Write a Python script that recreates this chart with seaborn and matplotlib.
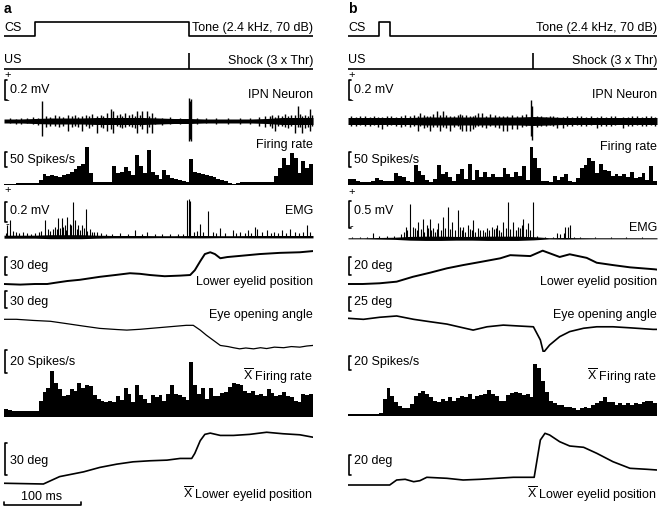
import numpy as np
import pandas as pd
import matplotlib
matplotlib.use('Agg')
import matplotlib.pyplot as plt
import seaborn as sns

sns.set_theme(style='white')
plt.rcParams['font.family'] = ['Liberation Sans', 'DejaVu Sans']
plt.rcParams['mathtext.fontset'] = 'custom'
plt.rcParams['mathtext.rm'] = 'Liberation Sans'

INK = '#000000'

# ---------------- data (time in ms, 0-400 per panel) ----------------
cs_a = (40, 240)
cs_b = (40, 55)
us_time = 240

# single-trial firing rate, 5 ms bins (spikes/s)
rate_a = [3, 4, 4, 5, 5, 6, 6, 7, 8, 15,
          35, 30, 33, 30, 28, 33, 38, 44, 52, 62,
          70, 125, 40, 11, 9, 9, 9, 9, 62, 40,
          42, 60, 48, 33, 100, 62, 40, 115, 42, 33,
          20, 50, 33, 22, 19, 16, 13, 10, 88, 44,
          41, 37, 33, 29, 25, 21, 17, 13, 8, 3,
          8, 9, 9, 9, 9, 9, 9, 9, 9, 9,
          30, 55, 90, 65, 105, 90, 40, 80, 55, 70]
rate_b = [19, 19, 13, 11, 11, 11, 13, 24, 15, 14,
          14, 14, 40, 30, 26, 12, 11, 68, 48, 32,
          17, 11, 20, 68, 38, 44, 27, 12, 38, 52,
          20, 70, 15, 50, 28, 44, 26, 38, 28, 28,
          58, 38, 26, 42, 30, 62, 18, 125, 89, 55,
          14, 12, 11, 30, 18, 28, 38, 12, 11, 22,
          55, 65, 90, 80, 39, 70, 50, 45, 30, 38,
          30, 36, 28, 42, 22, 28, 40, 17, 63, 12]

# mean firing rate, 5 ms bins (spikes/s)
mrate_a = [7, 5.5, 5.3, 5.2, 5, 5, 5, 5, 5.2, 14,
           22, 25, 40, 30, 24, 18, 19, 24, 23, 30,
           25, 28, 27, 19, 16, 14, 13, 14, 13, 18,
           15, 25, 20, 13, 28, 19, 16, 12, 19, 17,
           19, 14, 20, 28, 20, 19, 17, 15, 48, 28,
           20, 25, 16, 25, 18, 18, 21, 22, 26, 30,
           29, 28, 23, 21, 23, 19, 20, 18, 24, 21,
           18, 19, 22, 18, 17, 14, 13, 20, 19, 20]
mrate_b = [3, 3, 3, 3, 3, 3, 3, 3, 4, 25,
           40, 29, 20, 15, 11, 11, 17, 29, 33, 36,
           31, 27, 22, 20, 25, 22, 27, 22, 26, 29,
           27, 31, 25, 28, 30, 32, 37, 32, 29, 22,
           22, 30, 33, 34, 33, 30, 32, 27, 75, 68,
           50, 35, 22, 18, 16, 16, 13, 13, 11, 9,
           11, 13, 11, 16, 18, 22, 27, 20, 20, 16,
           18, 16, 18, 16, 18, 17, 20, 22, 22, 18]

# IPN neuron: noise envelope (mV) every 20 ms, spikes (time, up, down)
env_t = [0, 20, 40, 60, 80, 100, 120, 140, 160, 180, 200,
         220, 240, 260, 280, 300, 320, 340, 360, 380, 400]
neu_env_a = [0.02, 0.02, 0.025, 0.03, 0.03, 0.03, 0.035, 0.035, 0.035, 0.035, 0.03,
             0.025, 0.025, 0.02, 0.02, 0.02, 0.02, 0.025, 0.035, 0.035, 0.035]
neu_env_b = [0.035, 0.035, 0.035, 0.035, 0.035, 0.04, 0.04, 0.04, 0.04, 0.04, 0.04,
             0.04, 0.045, 0.04, 0.035, 0.035, 0.035, 0.035, 0.035, 0.035, 0.035]
spk_t_a = [49, 83, 101, 120, 133, 138, 141, 157, 172, 179, 185, 192,
           239, 240.5, 242, 351, 360, 377, 380, 386, 396,
           8, 15, 22, 30, 37, 44, 55, 60, 66, 71, 76, 88, 92, 96, 106, 110, 114, 125,
           128, 146, 150, 153, 162, 166, 169, 176, 188, 196, 205, 215, 228, 250, 262,
           275, 290, 305, 318, 330, 338, 344, 347, 355, 364, 368, 372, 383, 390, 393, 399]
spk_up_a = [0.2, 0.06, 0.05, 0.05, 0.08, 0.12, 0.1, 0.08, 0.1, 0.1, 0.1, 0.08,
            0.23, 0.2, 0.22, 0.04, 0.05, 0.06, 0.15, 0.05, 0.12,
            0.03, 0.02, 0.03, 0.03, 0.04, 0.03, 0.05, 0.04, 0.06, 0.05, 0.04, 0.05, 0.06,
            0.04, 0.06, 0.05, 0.07, 0.06, 0.05, 0.06, 0.07, 0.05, 0.06, 0.07, 0.05, 0.06,
            0.05, 0.04, 0.03, 0.04, 0.03, 0.03, 0.03, 0.03, 0.03, 0.03, 0.03, 0.04, 0.05,
            0.05, 0.06, 0.06, 0.07, 0.05, 0.06, 0.07, 0.06, 0.05, 0.06]
spk_dn_a = [0.15, 0.1, 0.1, 0.12, 0.1, 0.08, 0.12, 0.06, 0.12, 0.08, 0.12, 0.12,
            0.2, 0.18, 0.2, 0.1, 0.05, 0.12, 0.06, 0.12, 0.1,
            0.02, 0.03, 0.03, 0.02, 0.03, 0.04, 0.06, 0.05, 0.05, 0.06, 0.05, 0.06, 0.05,
            0.06, 0.05, 0.07, 0.05, 0.06, 0.07, 0.05, 0.06, 0.07, 0.05, 0.06, 0.07, 0.05,
            0.06, 0.03, 0.04, 0.03, 0.03, 0.03, 0.02, 0.03, 0.03, 0.03, 0.03, 0.05, 0.06,
            0.05, 0.07, 0.05, 0.06, 0.07, 0.05, 0.06, 0.07, 0.06, 0.05]
spk_t_b = [44, 91, 93, 106, 115, 119, 123, 132, 148, 153, 158, 162, 168, 173,
           201, 206, 212, 219, 237, 238.5, 271, 278, 322, 356,
           4, 10, 16, 22, 28, 34, 39, 50, 56, 62, 68, 74, 80, 86, 98, 102, 110, 127,
           137, 142, 145, 165, 178, 184, 190, 195, 225, 230, 245, 250, 256, 262, 266,
           284, 290, 296, 302, 308, 314, 328, 334, 340, 346, 362, 368, 374, 380, 386,
           392, 398]
spk_up_b = [0.04, 0.05, 0.08, 0.05, 0.1, 0.06, 0.1, 0.05, 0.06, 0.06, 0.05, 0.05, 0.08,
            0.08, 0.05, 0.05, 0.06, 0.05, 0.21, 0.15, 0.04, 0.04, 0.04, 0.04,
            0.05, 0.04, 0.05, 0.05, 0.04, 0.05, 0.04, 0.05, 0.05, 0.04, 0.05, 0.06, 0.05,
            0.06, 0.06, 0.05, 0.07, 0.06, 0.05, 0.06, 0.07, 0.06, 0.05, 0.07, 0.06, 0.05,
            0.06, 0.07, 0.05, 0.05, 0.04, 0.05, 0.05, 0.05, 0.04, 0.05, 0.05, 0.04, 0.05,
            0.05, 0.04, 0.05, 0.05, 0.04, 0.05, 0.05, 0.04, 0.05, 0.05, 0.04]
spk_dn_b = [0.08, 0.1, 0.05, 0.1, 0.06, 0.1, 0.06, 0.1, 0.1, 0.1, 0.1, 0.08, 0.05, 0.06,
            0.1, 0.1, 0.08, 0.08, 0.15, 0.19, 0.07, 0.07, 0.07, 0.07,
            0.05, 0.05, 0.04, 0.05, 0.05, 0.04, 0.06, 0.05, 0.04, 0.05, 0.06, 0.05, 0.06,
            0.05, 0.07, 0.06, 0.06, 0.07, 0.06, 0.05, 0.08, 0.06, 0.07, 0.05, 0.06, 0.07,
            0.06, 0.05, 0.06, 0.05, 0.05, 0.04, 0.05, 0.05, 0.05, 0.04, 0.05, 0.05, 0.04,
            0.05, 0.05, 0.05, 0.04, 0.05, 0.05, 0.04, 0.05, 0.05, 0.04, 0.05]

# EMG: baseline envelope (mV) and peaks (time, amplitude mV)
emg_env_a = [0.015, 0.015, 0.015, 0.02, 0.02, 0.02, 0.015, 0.012, 0.012, 0.012, 0.01,
             0.01, 0.012, 0.012, 0.01, 0.01, 0.012, 0.012, 0.012, 0.012, 0.012]
emg_env_b = [0.01, 0.01, 0.015, 0.02, 0.035, 0.04, 0.04, 0.035, 0.035, 0.04, 0.04,
             0.04, 0.03, 0.012, 0.015, 0.012, 0.01, 0.01, 0.01, 0.01, 0.01]
emg_t_a = [4, 8, 53, 63, 70, 75, 79, 82, 85, 89, 92, 96, 101, 106, 111, 120, 170, 185,
           237, 239, 241, 254, 264, 280, 296, 316, 325, 328, 340, 360, 370, 392,
           2, 12, 16, 20, 25, 30, 35, 40, 45, 48, 57, 60, 66, 68, 72, 77, 80, 87, 94, 98,
           103, 108, 114, 117, 125, 132, 140, 150, 160, 178, 195, 205, 215, 225, 232,
           246, 250, 258, 270, 275, 286, 300, 306, 312, 320, 334, 345, 350, 355, 365,
           377, 382, 387, 396]
emg_amp_a = [0.115, 0.165, 0.165, 0.08, 0.19, 0.19, 0.115, 0.2, 0.13, 0.35, 0.165, 0.115,
             0.115, 0.28, 0.08, 0.05, 0.066, 0.05, 0.37, 0.38, 0.36, 0.13, 0.26, 0.09,
             0.066, 0.066, 0.1, 0.08, 0.066, 0.066, 0.08, 0.115,
             0.04, 0.06, 0.05, 0.04, 0.05, 0.04, 0.03, 0.04, 0.05, 0.06, 0.08, 0.06, 0.1,
             0.08, 0.09, 0.1, 0.07, 0.12, 0.08, 0.07, 0.09, 0.06, 0.05, 0.05, 0.04, 0.03,
             0.03, 0.04, 0.03, 0.03, 0.03, 0.03, 0.03, 0.03, 0.03, 0.05, 0.06, 0.05, 0.05,
             0.04, 0.04, 0.04, 0.05, 0.04, 0.04, 0.05, 0.04, 0.05, 0.04, 0.04, 0.05, 0.04,
             0.05, 0.05]
emg_t_b = [32, 75, 80, 84, 91, 97, 102, 106, 110, 117, 123, 129, 135, 142, 149, 155,
           162, 171, 180, 186, 193, 201, 207, 214, 220, 227, 233, 239, 271, 281, 285, 287,
           5, 15, 25, 40, 50, 60, 68, 72, 77, 87, 89, 94, 99, 104, 108, 113, 115, 120,
           126, 132, 138, 145, 147, 152, 158, 160, 165, 168, 175, 177, 183, 189, 191,
           196, 198, 204, 210, 217, 223, 225, 230, 236, 245, 255, 265, 275, 279, 292,
           300, 320, 340, 360, 380]
emg_amp_b = [0.09, 0.22, 0.65, 0.22, 0.31, 0.37, 0.25, 0.37, 0.19, 0.28, 0.4, 0.59, 0.31,
             0.53, 0.22, 0.25, 0.34, 0.16, 0.19, 0.22, 0.25, 0.31, 0.68, 0.31, 0.22, 0.37,
             0.28, 0.68, 0.09, 0.22, 0.22, 0.25,
             0.03, 0.03, 0.03, 0.04, 0.05, 0.05, 0.08, 0.12, 0.15, 0.2, 0.15, 0.18, 0.12,
             0.2, 0.15, 0.12, 0.18, 0.15, 0.2, 0.18, 0.15, 0.22, 0.15, 0.12, 0.18, 0.15,
             0.12, 0.2, 0.15, 0.12, 0.15, 0.18, 0.2, 0.15, 0.12, 0.2, 0.18, 0.15, 0.2,
             0.25, 0.18, 0.15, 0.04, 0.03, 0.03, 0.08, 0.1, 0.03, 0.03, 0.03, 0.03, 0.03,
             0.03]

# lower eyelid position (deg), single trial
lid_t_a = [0, 21, 40, 56, 66, 82, 98, 124, 144, 163, 176, 189, 208, 228, 241, 247, 254,
           260, 267, 273, 280, 289, 306, 331, 357, 383, 400]
lid_a = [0, -1, 0, 0, 2, 5, 7, 12, 15, 18, 17, 15, 13, 14, 15, 23, 38,
         50, 53, 50, 43, 45, 47, 50, 52, 53, 55]
lid_t_b = [0, 19, 41, 63, 84, 106, 128, 149, 171, 197, 210, 236, 252, 274, 287, 309,
           322, 343, 365, 397, 400]
lid_b = [0, 0, 0.8, 2.6, 8, 12.5, 17.4, 21, 24.4, 28.5, 32, 31, 37, 30, 33, 29,
         23.6, 21, 18.5, 16.3, 16]

# eye opening angle (deg)
eye_t_a = [0, 16, 38, 60, 81, 103, 124, 146, 159, 176, 211, 236, 245, 254, 262, 271,
           280, 290, 297, 305, 313, 323, 332, 340, 350, 362, 372, 383, 392, 400]
eye_a = [0, 0, -2, -3.5, -7.6, -12, -16, -18, -19, -17.6, -13.5, -10.6, -10.6, -19, -28,
         -37, -46, -48, -50, -52, -50.5, -52, -50, -51.5, -49, -50, -48, -49, -47, -46]
eye_t_b = [0, 20, 41, 63, 85, 106, 128, 149, 162, 180, 201, 223, 240, 249, 253, 261,
           274, 287, 305, 322, 343, 365, 395, 400]
eye_b = [0, -1.9, 1.9, 4.3, -1.9, -6.3, -10.7, -17.6, -21.8, -15.7, -12.6, -14.4, -15.7,
         -40, -63.3, -49.4, -34, -24.6, -18.4, -15.7, -15.7, -17.6, -20.5, -20.5]

# mean lower eyelid position (deg)
mlid_t_a = [0, 51, 60, 72, 103, 124, 146, 167, 189, 211, 228, 243, 247, 254, 260, 267,
            280, 297, 318, 340, 361, 383, 400]
mlid_a = [0.7, 0, 3, 7, 11.5, 15.7, 18.8, 21, 22, 22.6, 24.2, 24.2, 29, 41, 47, 48.2,
          46, 46, 47, 49, 47.6, 46.6, 44.3]
mlid_t_b = [0, 54, 63, 74, 85, 93, 102, 128, 149, 171, 192, 214, 241, 249, 255, 261,
            274, 287, 305, 322, 343, 365, 387, 400]
mlid_b = [0, 0, 5, 5.7, 3.3, 4.3, 7.7, 6.7, 5, 5.7, 6.7, 7.7, 7.7, 45, 51.7, 50,
          43.3, 39, 37.7, 31.7, 23.3, 16.7, 15.7, 15]

# ---------------- layout ----------------
W, H = 660, 509
SPAN = 400
BIN = 5
PX_MS = 0.7725
FS = 9
centers = np.arange(BIN / 2, SPAN, BIN)

fig = plt.figure(figsize=(W / 100, H / 100), dpi=100)
fig.patch.set_facecolor('white')


def new_ax(left, top, bottom):
    return fig.add_axes([left / W, 1 - bottom / H, SPAN * PX_MS / W, (bottom - top) / H])


def fix(ax, top, bottom, zero, per_px):
    ax.set_xlim(0, SPAN)
    ax.set_ylim((zero - bottom) * per_px, (zero - top) * per_px)
    ax.set_axis_off()


def bracket(ax, zero, per_px, y_bottom, value):
    y0 = (zero - y_bottom) * per_px
    ax.plot([4.5, 1.3, 1.3, 4.5], [y0, y0, y0 + value, y0 + value],
            color=INK, lw=1.2, clip_on=False)


def label(x, y, s, ha='left', **kw):
    fig.text(x / W, 1 - y / H, s, ha=ha, va='center', fontsize=kw.pop('fontsize', FS),
             color=INK, **kw)


def line(ax, t, v, lw=1.0):
    sns.lineplot(x=t, y=v, ax=ax, color=INK, lw=lw, estimator=None, sort=False)


def hist(ax, rate):
    df = pd.DataFrame({'t': centers, 'rate': rate})
    sns.histplot(data=df, x='t', weights='rate', binwidth=BIN, binrange=(0, SPAN),
                 element='step', fill=True, color=INK, alpha=1, linewidth=0, ax=ax)


def noisy(ax, env, times, up, down, lw=0.8):
    ax.fill_between(env_t, [-e for e in env], env, color=INK, lw=0)
    ax.vlines(times, [-d for d in down], up, color=INK, lw=lw, clip_on=False)


panels = [
    dict(L=4, tag='a', cs=cs_a, rate=rate_a, mrate=mrate_a, neu_env=neu_env_a,
         spk=(spk_t_a, spk_up_a, spk_dn_a), emg_env=emg_env_a, emg=(emg_t_a, emg_amp_a),
         lid=(lid_t_a, lid_a), eye=(eye_t_a, eye_a), mlid=(mlid_t_a, mlid_a),
         emg_zero=236.7, emg_pp=0.01, emg_scale=0.2, emg_lab='0.2 mV', emg_br=222, emg_y=211,
         lid_pp=1.67, lid_scale=30, eye_pp=1.76, eye_scale=30, eye_br=308, eye_zero=319.3,
         eye_lw=0.9, mrate_pp=0.88, mrate_zero=416.7, mrate_br=373,
         mlid_pp=0.947, mlid_scale=30, mlid_zero=484, mlid_br=475,
         fr_y=145, emg_plus=190, emg_minus=224, lid_lab='30 deg', eye_lab='30 deg',
         mlid_lab='30 deg'),
    dict(L=348, tag='b', cs=cs_b, rate=rate_b, mrate=mrate_b, neu_env=neu_env_b,
         spk=(spk_t_b, spk_up_b, spk_dn_b), emg_env=emg_env_b, emg=(emg_t_b, emg_amp_b),
         lid=(lid_t_b, lid_b), eye=(eye_t_b, eye_b), mlid=(mlid_t_b, mlid_b),
         emg_zero=238.3, emg_pp=0.0187, emg_scale=0.5, emg_lab='0.5 mV', emg_br=228, emg_y=228,
         lid_pp=1.11, lid_scale=20, eye_pp=1.85, eye_scale=25, eye_br=310.5, eye_zero=318.3,
         eye_lw=1.2, mrate_pp=1.43, mrate_zero=416, mrate_br=370,
         mlid_pp=1.0, mlid_scale=20, mlid_zero=485, mlid_br=475,
         fr_y=147, emg_plus=192, emg_minus=226, lid_lab='20 deg', eye_lab='25 deg',
         mlid_lab='20 deg'),
]

for p in panels:
    L = p['L']
    R = L + SPAN * PX_MS
    label(L, 9, p['tag'], fontweight='bold', fontsize=10)

    # CS
    ax = new_ax(L, 15, 40)
    line(ax, [0, p['cs'][0], p['cs'][1], SPAN], [0, 1, 0, 0], lw=1.2)
    ax.lines[-1].set_drawstyle('steps-post')
    fix(ax, 15, 40, 36, 1 / 14)
    label(L, 28, 'CS')
    label(R, 28, 'Tone (2.4 kHz, 70 dB)', ha='right')

    # US
    ax = new_ax(L, 45, 72)
    line(ax, [0, SPAN], [0, 0], lw=1.2)
    ax.vlines(us_time, 0, 1, color=INK, lw=1.2)
    fix(ax, 45, 72, 69, 1 / 16)
    label(L, 60, 'US')
    label(R, 61, 'Shock (3 x Thr)', ha='right')

    # IPN neuron
    ax = new_ax(L, 98, 145)
    noisy(ax, p['neu_env'], *p['spk'], lw=1.0)
    fix(ax, 98, 145, 121, 0.01)
    bracket(ax, 121, 0.01, 100, 0.2)
    label(L + 0.5, 75, '+', fontsize=8)
    label(L + 6, 90, '0.2 mV')
    label(L + 1, 100, '-', fontsize=8)
    label(R, 95, 'IPN Neuron', ha='right')

    # firing rate (single trial)
    ax = new_ax(L, 140, 188)
    hist(ax, p['rate'])
    fix(ax, 140, 188, 185, 3.33)
    bracket(ax, 185, 3.33, 167, 50)
    label(L + 6, 160, '50 Spikes/s')
    label(R, p['fr_y'], 'Firing rate', ha='right')

    # EMG
    ax = new_ax(L, 190, 242)
    emg_t, emg_amp = p['emg']
    noisy(ax, p['emg_env'], emg_t, emg_amp, [0] * len(emg_t))
    fix(ax, 190, 242, p['emg_zero'], p['emg_pp'])
    bracket(ax, p['emg_zero'], p['emg_pp'], p['emg_br'], p['emg_scale'])
    label(L + 0.5, p['emg_plus'], '+', fontsize=8)
    label(L + 6, 211, p['emg_lab'])
    label(L + 1, p['emg_minus'], '-', fontsize=8)
    label(R, p['emg_y'], 'EMG', ha='right')

    # lower eyelid position
    ax = new_ax(L, 245, 290)
    line(ax, *p['lid'], lw=1.4)
    fix(ax, 245, 290, 284, p['lid_pp'])
    bracket(ax, 284, p['lid_pp'], 275, p['lid_scale'])
    label(L + 6, 266, p['lid_lab'])
    label(R, 282, 'Lower eyelid position', ha='right')

    # eye opening angle
    ax = new_ax(L, 288, 352)
    line(ax, *p['eye'], lw=p['eye_lw'])
    fix(ax, 288, 352, p['eye_zero'], p['eye_pp'])
    bracket(ax, p['eye_zero'], p['eye_pp'], p['eye_br'], p['eye_scale'])
    label(L + 6, 302, p['eye_lab'])
    label(R, 315, 'Eye opening angle', ha='right')

    # mean firing rate
    ax = new_ax(L, 340, 420)
    hist(ax, p['mrate'])
    fix(ax, 340, 420, p['mrate_zero'], p['mrate_pp'])
    bracket(ax, p['mrate_zero'], p['mrate_pp'], p['mrate_br'], 20)
    label(L + 6, 362, '20 Spikes/s')
    label(R, 376, r'$\overline{\mathrm{X}}$ Firing rate', ha='right')

    # mean lower eyelid position
    ax = new_ax(L, 425, 490)
    line(ax, *p['mlid'], lw=1.2)
    fix(ax, 425, 490, p['mlid_zero'], p['mlid_pp'])
    bracket(ax, p['mlid_zero'], p['mlid_pp'], p['mlid_br'], p['mlid_scale'])
    label(L + 6, 461, p['mlid_lab'])
    label(R, 494, r'$\overline{\mathrm{X}}$ Lower eyelid position', ha='right')

    if p['tag'] == 'a':
        yb = (p['mlid_zero'] - 505) * p['mlid_pp']
        tick = 3 * p['mlid_pp']
        ax.plot([0, 0, 100, 100], [yb + tick, yb, yb, yb + tick], color=INK, lw=1.2,
                clip_on=False)
        label(L + 38, 497, '100 ms', ha='center')

fig.savefig('out.png', dpi=100, facecolor='white')
